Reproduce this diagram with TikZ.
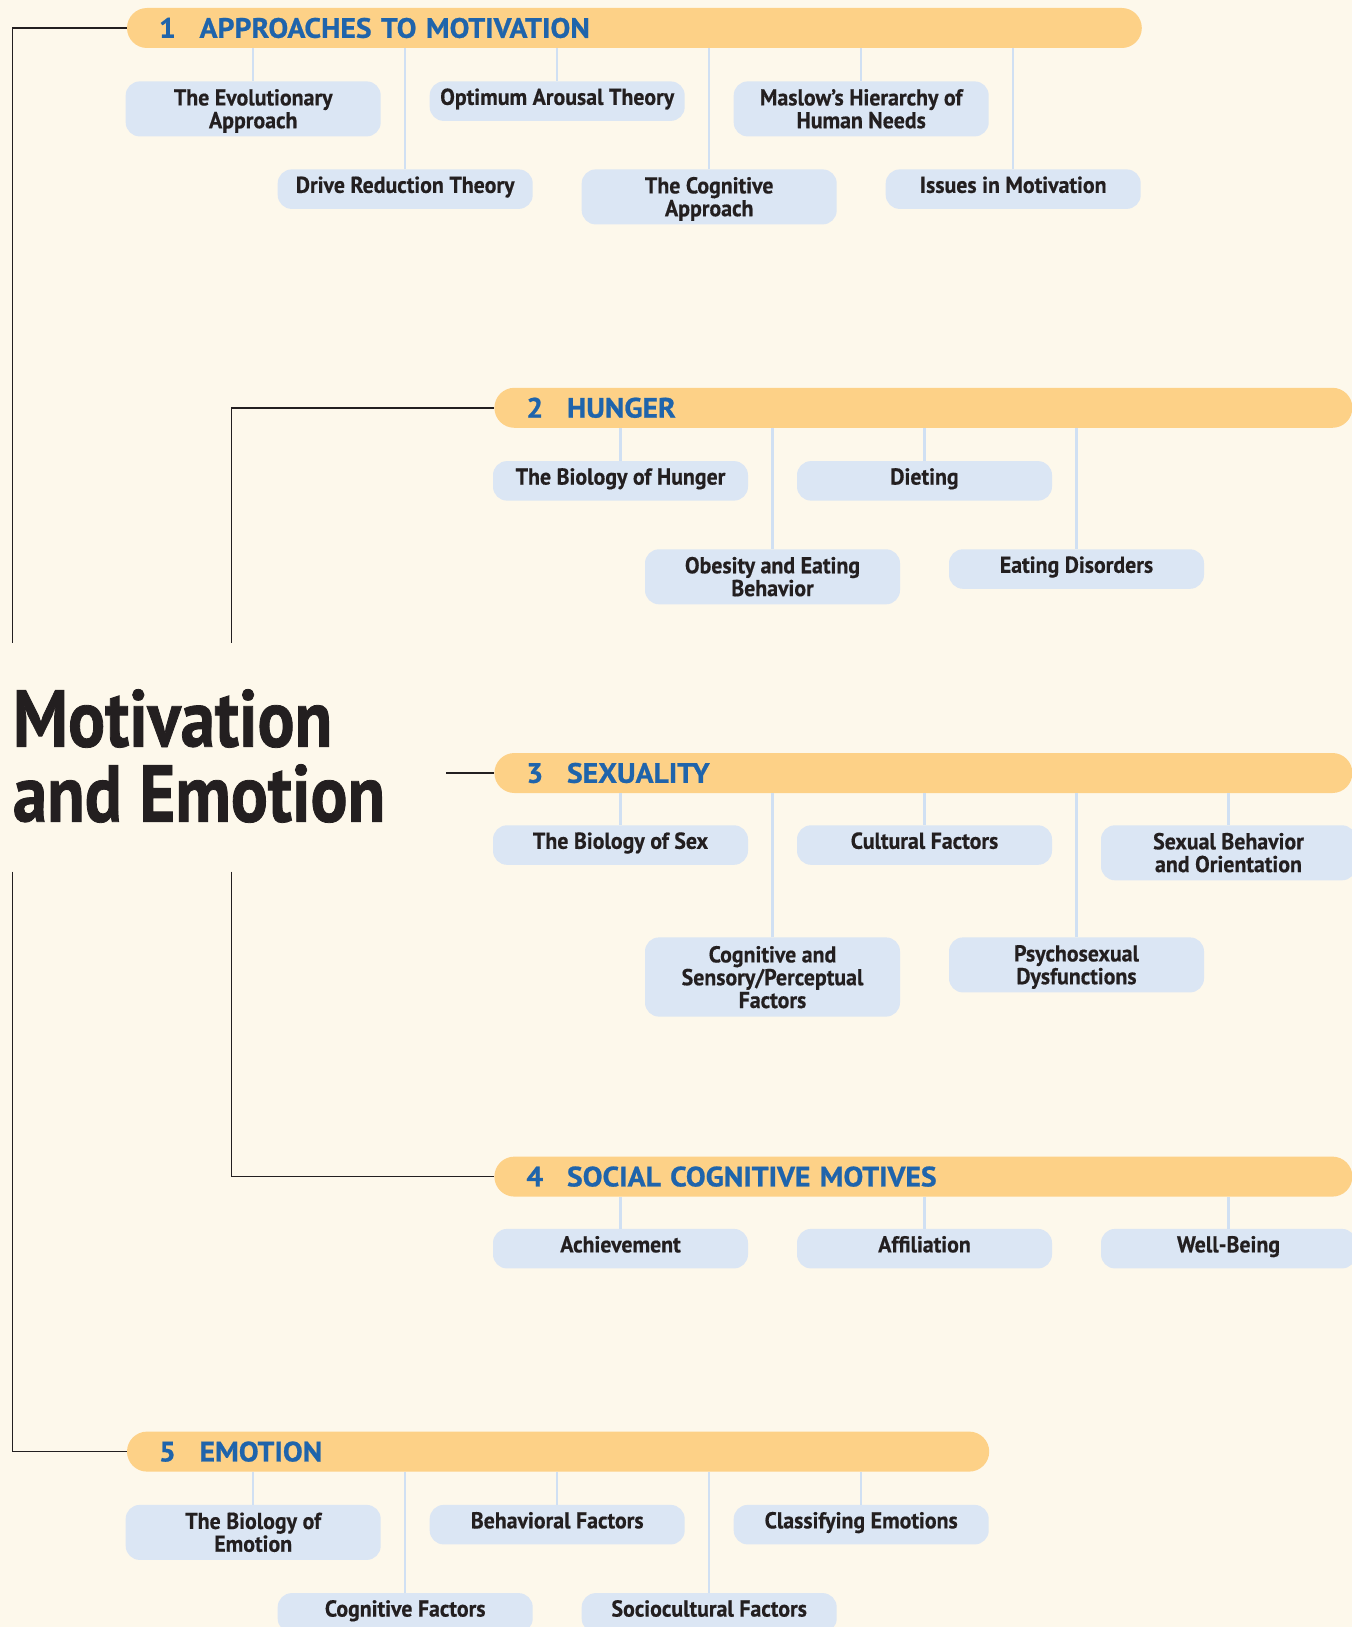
\documentclass[tikz,border=0pt]{standalone}
\usepackage{xcolor}
\usepackage{fontspec}
\usepackage{tikz}
\usetikzlibrary{positioning}
\setmainfont{PT Sans}
\newfontfamily\topicfont[FakeStretch=0.95,FakeBold=0.5]{PT Sans}
\newfontfamily\barfont[FakeStretch=1.06,FakeBold=0.8]{PT Sans}
\newfontfamily\titlefont[FakeStretch=0.856,FakeBold=1]{PT Sans}
\definecolor{paper}{RGB}{253,248,235}
\definecolor{barorange}{RGB}{253,209,135}
\definecolor{headblue}{RGB}{31,100,171}
\definecolor{topicblue}{RGB}{219,230,244}
\definecolor{linkblue}{RGB}{208,224,243}
\definecolor{inkdark}{RGB}{35,31,32}

\begin{document}
\begin{tikzpicture}[x=1pt, y=-1pt,
    headbar/.style={anchor=west, fill=barorange, rounded corners=10pt, minimum height=20pt,
        inner xsep=16pt, inner ysep=0pt, text width=#1, align=left, text=headblue,
        font=\barfont\bfseries\fontsize{14}{15}\selectfont},
    topicbox/.style={anchor=north, fill=topicblue, rounded corners=7pt, minimum width=127.5pt,
        minimum height=19.75pt, inner sep=0pt, align=center, text=inkdark,
        text height=8.2pt, text depth=4.5pt,
        font=\topicfont\bfseries\fontsize{11.5}{11.4}\selectfont},
    tall/.style={minimum height=27.5pt, text height=22.3pt, text depth=3pt},
    taller/.style={minimum height=39.6pt, text height=34pt, text depth=3pt},
    link/.style={draw=linkblue, line width=1.1pt},
    bracket/.style={draw=inkdark, line width=0.7pt}]

    % page
    \useasboundingbox (0,0) rectangle (676,813.5);
    \clip (0,0) rectangle (676,813.5);
    \fill[paper] (0,0) rectangle (676,813.5);

    % title
    \node[anchor=base west, inner sep=0pt, align=left, text=inkdark,
        font=\titlefont\bfseries\fontsize{40.3}{37.5}\selectfont] (title) at (6.25,410.8) {Motivation\\and Emotion};

    % 1 approaches to motivation
    \node[headbar=475.4pt] (approach) at (63.3,14) {\makebox[20.3pt][l]{1}APPROACHES TO MOTIVATION};
    \node[topicbox,tall] (evol) at (126.6,40.5) {The Evolutionary\\Approach};
    \node[topicbox] (arousal) at (278.6,40.5) {Optimum Arousal Theory};
    \node[topicbox,tall] (maslow) at (430.6,40.5) {Maslow’s Hierarchy of\\Human Needs};
    \node[topicbox] (drive) at (202.6,84.5) {Drive Reduction Theory};
    \node[topicbox,tall] (cogapp) at (354.6,84.5) {The Cognitive\\Approach};
    \node[topicbox] (issues) at (506.6,84.5) {Issues in Motivation};

    % 2 hunger
    \node[headbar=397pt] (hunger) at (247,203.9) {\makebox[20.3pt][l]{2}HUNGER};
    \node[topicbox] (biohunger) at (310.25,230.35) {The Biology of Hunger};
    \node[topicbox] (dieting) at (462.25,230.35) {Dieting};
    \node[topicbox,tall] (obesity) at (386.25,274.45) {Obesity and Eating\\Behavior};
    \node[topicbox] (disorders) at (538.25,274.45) {Eating Disorders};

    % 3 sexuality
    \node[headbar=397pt] (sexuality) at (247,386.5) {\makebox[20.3pt][l]{3}SEXUALITY};
    \node[topicbox] (biosex) at (310.25,412.45) {The Biology of Sex};
    \node[topicbox] (cultural) at (462.25,412.45) {Cultural Factors};
    \node[topicbox,tall] (orient) at (614.25,412.45) {Sexual Behavior\\and Orientation};
    \node[topicbox,taller] (sensory) at (386.25,468.5) {Cognitive and\\Sensory/Perceptual\\Factors};
    \node[topicbox,tall] (dysfunc) at (538.25,468.5) {Psychosexual\\Dysfunctions};

    % 4 social cognitive motives
    \node[headbar=397pt] (social) at (247,588.3) {\makebox[20.3pt][l]{4}SOCIAL COGNITIVE MOTIVES};
    \node[topicbox] (achieve) at (310.25,614.25) {Achievement};
    \node[topicbox] (affil) at (462.25,614.25) {Affiliation};
    \node[topicbox] (wellbeing) at (614.25,614.25) {Well-Being};

    % 5 emotion
    \node[headbar=399.1pt] (emotion) at (63.3,725.8) {\makebox[20.3pt][l]{5}EMOTION};
    \node[topicbox,tall] (bioemo) at (126.6,752.25) {The Biology of\\Emotion};
    \node[topicbox] (behav) at (278.6,752.25) {Behavioral Factors};
    \node[topicbox] (classify) at (430.6,752.25) {Classifying Emotions};
    \node[topicbox] (cogfac) at (202.6,796.35) {Cognitive Factors};
    \node[topicbox] (socio) at (354.6,796.35) {Sociocultural Factors};

    % brackets from the title
    \coordinate (outertop) at (6.25,321.5);
    \coordinate (outerbot) at (6.25,435.8);
    \coordinate (innertop) at (115.7,321.5);
    \coordinate (innerbot) at (115.7,435.8);
    \coordinate (sexstub) at (223,386.5);
    \draw[bracket] (approach.west) -| (outertop);
    \draw[bracket] (outerbot) |- (emotion.west);
    \draw[bracket] (hunger.west) -| (innertop);
    \draw[bracket] (innerbot) |- (social.west);
    \draw[bracket] (sexstub) -- (sexuality.west);

    % links bar -> topic
    \draw[link] (evol.north) -- (evol.north |- approach.south);
    \draw[link] (arousal.north) -- (arousal.north |- approach.south);
    \draw[link] (maslow.north) -- (maslow.north |- approach.south);
    \draw[link] (drive.north) -- (drive.north |- approach.south);
    \draw[link] (cogapp.north) -- (cogapp.north |- approach.south);
    \draw[link] (issues.north) -- (issues.north |- approach.south);

    \draw[link] (biohunger.north) -- (biohunger.north |- hunger.south);
    \draw[link] (dieting.north) -- (dieting.north |- hunger.south);
    \draw[link] (obesity.north) -- (obesity.north |- hunger.south);
    \draw[link] (disorders.north) -- (disorders.north |- hunger.south);

    \draw[link] (biosex.north) -- (biosex.north |- sexuality.south);
    \draw[link] (cultural.north) -- (cultural.north |- sexuality.south);
    \draw[link] (orient.north) -- (orient.north |- sexuality.south);
    \draw[link] (sensory.north) -- (sensory.north |- sexuality.south);
    \draw[link] (dysfunc.north) -- (dysfunc.north |- sexuality.south);

    \draw[link] (achieve.north) -- (achieve.north |- social.south);
    \draw[link] (affil.north) -- (affil.north |- social.south);
    \draw[link] (wellbeing.north) -- (wellbeing.north |- social.south);

    \draw[link] (bioemo.north) -- (bioemo.north |- emotion.south);
    \draw[link] (behav.north) -- (behav.north |- emotion.south);
    \draw[link] (classify.north) -- (classify.north |- emotion.south);
    \draw[link] (cogfac.north) -- (cogfac.north |- emotion.south);
    \draw[link] (socio.north) -- (socio.north |- emotion.south);

\end{tikzpicture}
\end{document}
